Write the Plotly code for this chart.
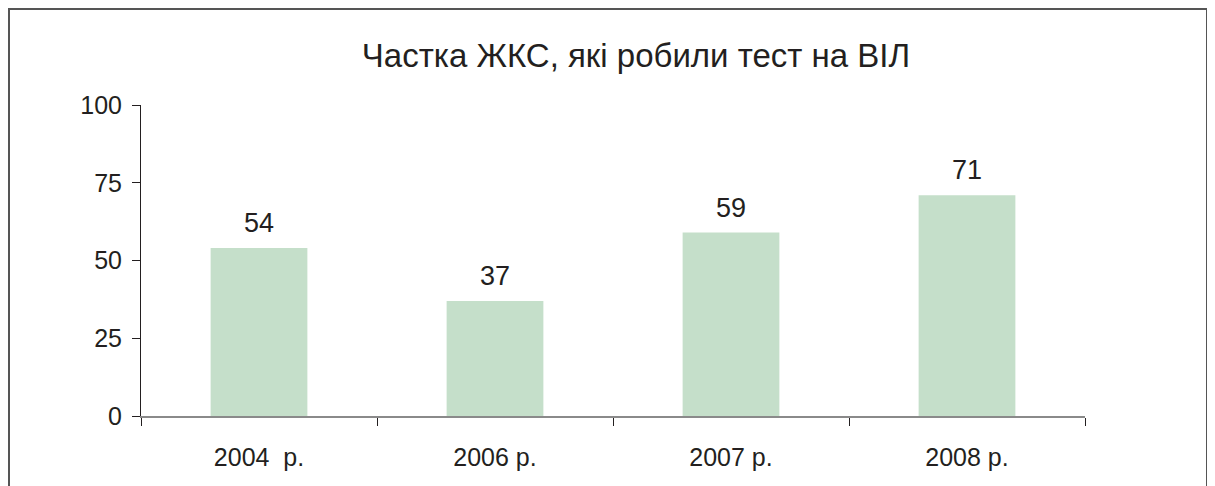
import plotly.graph_objects as go

# data
years = ["2004  р.", "2006 р.", "2007 р.", "2008 р."]
share = [54, 37, 59, 71]
y_ticks = [0, 25, 50, 75, 100]

# the page body adds an 8px offset, so the figure is laid out 8px up/left
W, H = 1215, 486
L, R, T, B = 133, 138, 97, 78
pw, ph = W - L - R, H - T - B

fig = go.Figure()
fig.add_trace(go.Bar(
    x=years,
    y=share,
    marker=dict(color="#c5dfca", line=dict(width=0)),
    hoverinfo="x+y",
))

# value labels above bars
for cat, v in zip(years, share):
    fig.add_annotation(
        x=cat, y=v, text=str(v), showarrow=False,
        yanchor="bottom", yshift=8,
        font=dict(size=27, color="#231f20"),
    )

# outer frame (bottom edge falls below the page)
fig.add_shape(
    type="rect", xref="paper", yref="paper",
    x0=(1 - L) / pw, x1=(1199 - L) / pw,
    y0=-(B + 10) / ph, y1=1 + (T - 1) / ph,
    line=dict(color="#555555", width=2),
    layer="below",
)

fig.update_layout(
    width=W, height=H,
    margin=dict(l=L, r=R, t=T, b=B),
    paper_bgcolor="white",
    plot_bgcolor="white",
    bargap=0.59,
    showlegend=False,
    font=dict(family="Liberation Sans, Arial, sans-serif", color="#231f20"),
    title=dict(
        text="Частка ЖКС, які робили тест на ВІЛ",
        x=628 / W, xanchor="center", xref="container",
        y=1 - 47 / H, yanchor="middle", yref="container",
        font=dict(size=33, color="#231f20"),
    ),
    xaxis=dict(
        type="category",
        showline=True, linecolor="#8a8a8a", linewidth=2,
        ticks="outside", tickson="boundaries", ticklen=8,
        tickcolor="#231f20", tickwidth=1,
        tickfont=dict(size=25),
        showgrid=False, zeroline=False,
        ticklabelstandoff=18,
    ),
    yaxis=dict(
        range=[0, 100],
        tickvals=y_ticks,
        showline=True, linecolor="#231f20", linewidth=1,
        ticks="outside", ticklen=8, tickcolor="#231f20",
        tickfont=dict(size=25),
        showgrid=False, zeroline=False,
        ticklabelstandoff=5,
    ),
)

fig.write_html("out.html")
